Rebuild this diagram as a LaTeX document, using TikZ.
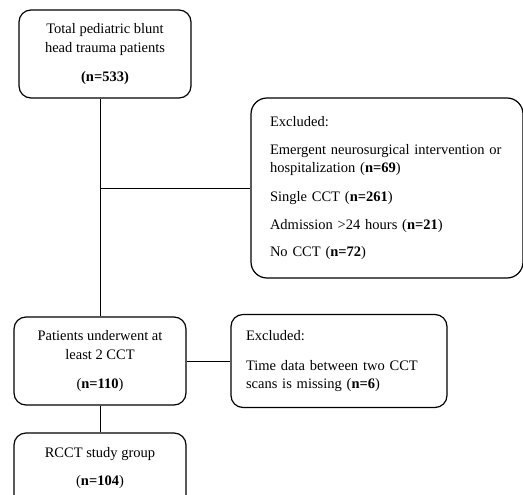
\documentclass[tikz,border=0pt]{standalone}
\usepackage{fontspec}
\setmainfont{Liberation Serif}
\begin{document}
\begin{tikzpicture}[x=1pt,y=-1pt,
  box/.style={draw=black, line width=1.2pt, rounded corners=12pt, inner sep=0pt},
  cbox/.style={box, align=center, font=\fontsize{14.5}{19}\selectfont},
  lbox/.style={box, align=left, font=\fontsize{14.5}{18}\selectfont},
  link/.style={draw=black, line width=0.8pt}]
\useasboundingbox (0,0) rectangle (523,495);
\node[cbox, minimum width=172, minimum height=88] (b1) at (105,54)
  {Total pediatric blunt\\head trauma patients\\[10pt]\textbf{(n=533)}};
\node[lbox, rounded corners=16pt, minimum width=272, minimum height=180, text width=234] (ex1) at (387,188)
  {Excluded:\\[10pt]Emergent neurosurgical intervention or\\hospitalization (\textbf{n=69})\\[11pt]Single CCT (\textbf{n=261})\\[10pt]Admission >24 hours (\textbf{n=21})\\[9pt]No CCT (\textbf{n=72})};
\node[cbox, minimum width=172, minimum height=88] (b2) at (100,361)
  {Patients underwent at\\least 2 CCT\\[10pt](\textbf{n=110})};
\node[lbox, minimum width=216, minimum height=93, text width=186] (ex2) at (339,361)
  {Excluded:\\[12pt]Time data between two CCT\\scans is missing (\textbf{n=6})};
\node[cbox, minimum width=172, minimum height=76] (b3) at (100,471)
  {RCCT study group\\[9pt](\textbf{n=104})\\[-9pt]{}};
\draw[link] (b2.north) -- (b2.north |- b1.south);
\draw[link] (b2.north |- ex1.west) -- (ex1.west);
\draw[link] (b2.south) -- (b3.north);
\draw[link] (b2.east) -- (ex2.west);
\end{tikzpicture}
\end{document}
